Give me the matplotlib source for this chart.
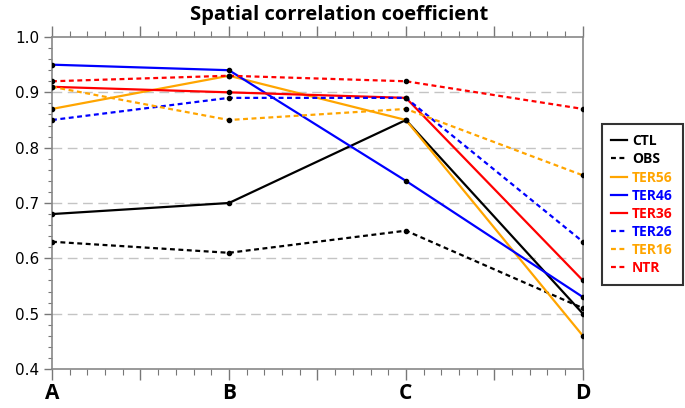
import matplotlib; matplotlib.use("Agg")
import matplotlib.pyplot as plt
import numpy as np

# values
points = ["A", "B", "C", "D"]
ctl   = [0.68, 0.70, 0.85, 0.50]
obs   = [0.63, 0.61, 0.65, 0.51]
ter56 = [0.87, 0.93, 0.85, 0.46]
ter46 = [0.95, 0.94, 0.74, 0.53]
ter36 = [0.91, 0.90, 0.89, 0.56]
ter26 = [0.85, 0.89, 0.89, 0.63]
ter16 = [0.91, 0.85, 0.87, 0.75]
ntr   = [0.92, 0.93, 0.92, 0.87]

ORANGE, BLUE, RED = "#FFA500", "#0000FF", "#FF0000"
SERIES = [
    ("CTL", ctl, "black", "-"),
    ("OBS", obs, "black", "--"),
    ("TER56", ter56, ORANGE, "-"),
    ("TER46", ter46, BLUE, "-"),
    ("TER36", ter36, RED, "-"),
    ("TER26", ter26, BLUE, "--"),
    ("TER16", ter16, ORANGE, "--"),
    ("NTR", ntr, RED, "--"),
]

fig = plt.figure(figsize=(6.85, 4.08), dpi=100)
ax = fig.add_axes([0.0759, 0.0956, 0.775, 0.8137])
x = np.arange(len(points))

handles = []
for name, vals, col, ls in SERIES:
    kw = dict(dashes=(2.2, 1.6)) if ls == "--" else {}
    ln, = ax.plot(x, vals, color=col, lw=1.6, label=name, **kw)
    ax.plot(x, vals, ls="none", marker="o", ms=3, color="black", zorder=5)
    handles.append(ln)

for v in [0.5, 0.6, 0.7, 0.8, 0.9]:
    ax.axhline(v, color="#c4c4c4", lw=1, dashes=(7, 4), zorder=0)

ax.set_xlim(0, 3)
ax.set_ylim(0.4, 1.0)
ax.set_xticks(np.arange(0, 3.01, 0.5))
ax.set_xticklabels(["A", "", "B", "", "C", "", "D"], fontsize=15,
                   fontweight="bold", family="Open Sans")
ax.set_xticks(np.arange(0, 3.01, 0.1), minor=True)
ax.set_yticks(np.arange(0.4, 1.01, 0.1))
ax.set_yticklabels([f"{v:.1f}" for v in np.arange(0.4, 1.01, 0.1)], fontsize=11)
ax.set_yticks(np.arange(0.4, 1.01, 0.02), minor=True)
ax.tick_params(axis="x", which="both", top=True, direction="out", color="#777777")
ax.tick_params(axis="x", which="major", length=8, width=1, pad=2)
ax.tick_params(axis="x", which="minor", length=4, width=0.8)
ax.tick_params(axis="y", which="both", right=False, direction="out", color="#777777")
ax.tick_params(axis="y", which="major", length=6, width=1, pad=3)
ax.tick_params(axis="y", which="minor", length=3, width=0.8)
for s in ax.spines.values():
    s.set_color("#888888"); s.set_linewidth(1.2)

fig.text(0.495, 0.963, "Spatial correlation coefficient", fontsize=14.5,
         fontweight="bold", family="Open Sans", ha="center", va="center")

leg = fig.legend(handles=handles, loc="upper left", bbox_to_anchor=(0.868, 0.712),
                 handlelength=1.1, handletextpad=0.4, labelspacing=0.3,
                 prop=dict(weight="bold", size=10, family="Open Sans"),
                 labelcolor="linecolor", fancybox=False, edgecolor="black",
                 borderpad=0.7)
leg.get_frame().set_linewidth(1.5)

fig.savefig("out.png", dpi=100)
